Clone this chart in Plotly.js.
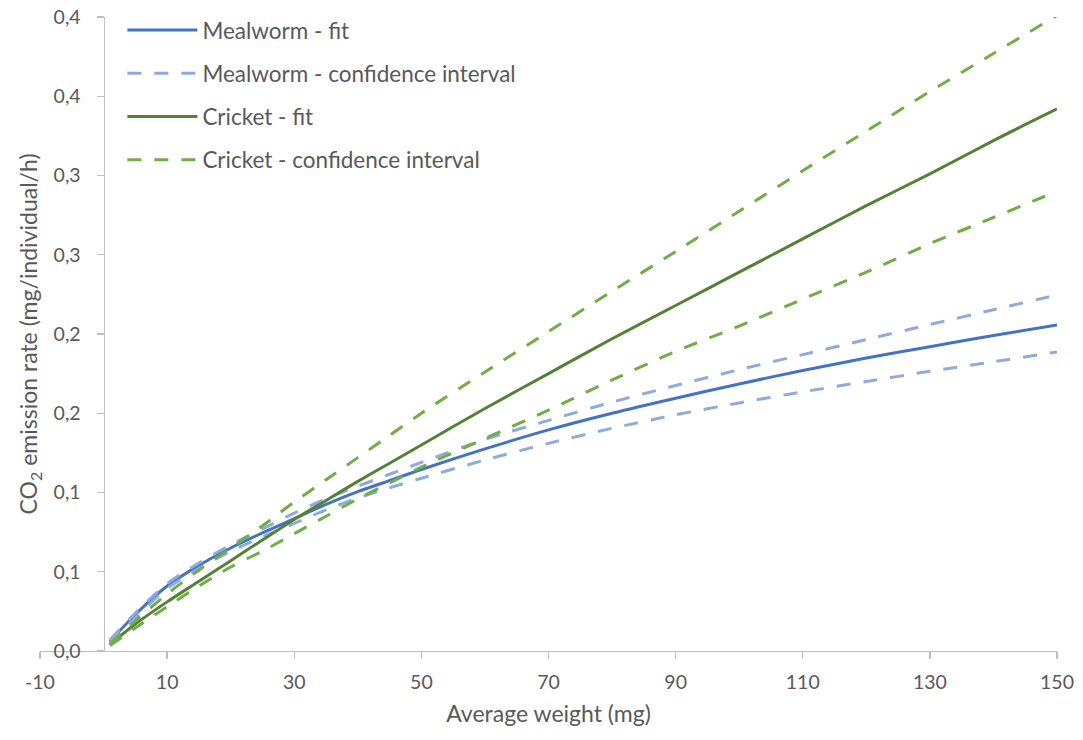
<!DOCTYPE html>
<html>
<head>
<meta charset="utf-8">
<script src="https://cdn.plot.ly/plotly-3.0.1.min.js"></script>
<style>
  html, body { margin: 0; padding: 0; background: #ffffff; }
  #chart { width: 1083px; height: 740px; }
</style>
</head>
<body>
<div id="chart"></div>
<script>
// Average weight (mg)
const weight = [1, 5, 10, 15, 20, 25, 30, 35, 40, 45, 50, 60, 70, 80, 90, 100, 110, 120, 130, 140, 150];

// CO2 emission rate (mg/individual/h)
const mealwormFit   = [0.006, 0.023, 0.041, 0.054, 0.065, 0.0745, 0.0835, 0.0925, 0.1005, 0.1075, 0.1145, 0.1275, 0.1395, 0.150, 0.1595, 0.1685, 0.177, 0.1848, 0.192, 0.199, 0.2057];
const mealwormUpper = [0.007, 0.024, 0.0425, 0.0555, 0.067, 0.077, 0.087, 0.096, 0.104, 0.1115, 0.119, 0.1335, 0.1455, 0.157, 0.1675, 0.1775, 0.187, 0.1965, 0.206, 0.2153, 0.2246];
const mealwormLower = [0.005, 0.021, 0.0395, 0.052, 0.063, 0.072, 0.0805, 0.089, 0.0965, 0.103, 0.109, 0.1205, 0.131, 0.1405, 0.149, 0.1565, 0.1635, 0.170, 0.1765, 0.1825, 0.1887];
const cricketFit    = [0.004, 0.017, 0.031, 0.044, 0.057, 0.070, 0.083, 0.095, 0.107, 0.1185, 0.130, 0.153, 0.175, 0.197, 0.218, 0.239, 0.260, 0.281, 0.301, 0.322, 0.342];
const cricketUpper  = [0.0045, 0.019, 0.036, 0.051, 0.065, 0.079, 0.094, 0.108, 0.122, 0.136, 0.150, 0.176, 0.2015, 0.227, 0.252, 0.2775, 0.303, 0.328, 0.353, 0.377, 0.401];
const cricketLower  = [0.0035, 0.0145, 0.028, 0.041, 0.053, 0.063, 0.074, 0.085, 0.096, 0.106, 0.116, 0.134, 0.152, 0.171, 0.189, 0.205, 0.222, 0.239, 0.257, 0.2735, 0.290];

// Axis ticks
const xTickVals = [-10, 10, 30, 50, 70, 90, 110, 130, 150];
const yTickVals = [0, 0.05, 0.10, 0.15, 0.20, 0.25, 0.30, 0.35, 0.40];
const yTickText = ['0,0', '0,1', '0,1', '0,2', '0,2', '0,3', '0,3', '0,4', '0,4'];

const FONT = 'Lato, "Open Sans", sans-serif';
const GREY = '#595959';
const AXIS = '#bfbfbf';
const DASH = '14px,13px';

const data = [
  { x: weight, y: mealwormFit, name: 'Mealworm - fit', legendgroup: 'g1', mode: 'lines',
    line: { color: '#4472c4', width: 3, shape: 'spline', smoothing: 0.8 } },
  { x: weight, y: mealwormUpper, name: 'Mealworm - confidence interval', legendgroup: 'g2', mode: 'lines',
    line: { color: '#8faadc', width: 3, dash: DASH, shape: 'spline', smoothing: 0.8 } },
  { x: weight, y: mealwormLower, name: 'Mealworm - confidence interval', legendgroup: 'g2', showlegend: false, mode: 'lines',
    line: { color: '#8faadc', width: 3, dash: DASH, shape: 'spline', smoothing: 0.8 } },
  { x: weight, y: cricketFit, name: 'Cricket - fit', legendgroup: 'g3', mode: 'lines',
    line: { color: '#548235', width: 3, shape: 'spline', smoothing: 0.8 } },
  { x: weight, y: cricketUpper, name: 'Cricket - confidence interval', legendgroup: 'g4', mode: 'lines',
    line: { color: '#70ad47', width: 3, dash: DASH, shape: 'spline', smoothing: 0.8 } },
  { x: weight, y: cricketLower, name: 'Cricket - confidence interval', legendgroup: 'g4', showlegend: false, mode: 'lines',
    line: { color: '#70ad47', width: 3, dash: DASH, shape: 'spline', smoothing: 0.8 } }
];

const layout = {
  width: 1083, height: 740,
  margin: { l: 40, r: 26, t: 17, b: 89, autoexpand: false },
  paper_bgcolor: '#ffffff', plot_bgcolor: '#ffffff',
  font: { family: FONT, size: 19, color: GREY },
  showlegend: true,
  legend: {
    x: 0.081, y: 1.013, xanchor: 'left', yanchor: 'top',
    bgcolor: 'rgba(0,0,0,0)', borderwidth: 0,
    font: { family: FONT, size: 22.5, color: GREY },
    itemwidth: 70, tracegroupgap: 11, traceorder: 'grouped'
  },
  xaxis: {
    range: [-10, 150], tickvals: xTickVals, ticktext: xTickVals.map(String),
    showgrid: false, zeroline: false, showline: true, linecolor: AXIS, linewidth: 1.3,
    ticks: 'outside', ticklen: 7, tickcolor: AXIS, tickwidth: 1.3, ticklabelstandoff: 6,
    tickfont: { family: FONT, size: 19.5, color: GREY },
    title: { text: 'Average weight (mg)', font: { family: FONT, size: 23, color: GREY }, standoff: 14 }
  },
  yaxis: {
    range: [0, 0.4], tickvals: yTickVals, ticktext: yTickText,
    anchor: 'free', position: 10 / 160,
    showgrid: false, zeroline: false, showline: true, linecolor: AXIS, linewidth: 1.3,
    ticks: 'outside', ticklen: 7, tickcolor: AXIS, tickwidth: 1.3, ticklabelstandoff: 12,
    tickfont: { family: FONT, size: 19.5, color: GREY },
    title: { text: 'CO<sub>2</sub> emission rate (mg/individual/h)', font: { family: FONT, size: 23, color: GREY }, standoff: 8 }
  }
};

Plotly.newPlot('chart', data, layout, { displayModeBar: false, staticPlot: true }).then(function (gd) {
  gd.querySelectorAll('.legend .legendlines path').forEach(function (p) {
    p.setAttribute('d', 'M5,0h70');
  });
});
</script>
</body>
</html>
